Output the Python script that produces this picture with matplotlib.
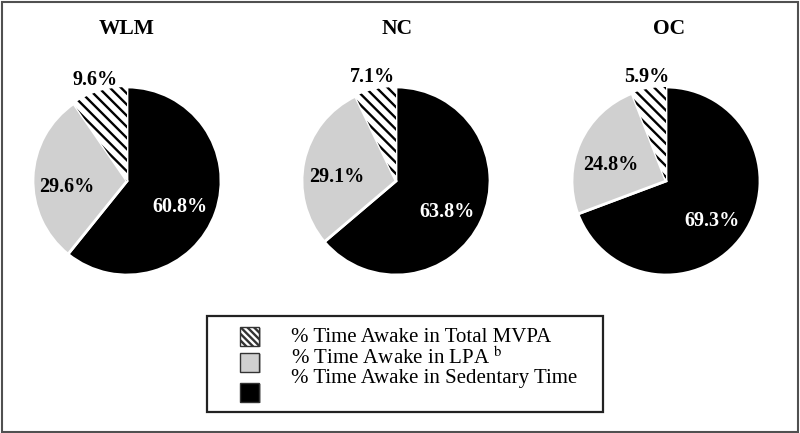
import matplotlib
matplotlib.use("Agg")
import matplotlib.pyplot as plt
from matplotlib.patches import Rectangle
import numpy as np

plt.rcParams['font.family'] = ['Liberation Serif', 'DejaVu Serif']
plt.rcParams['mathtext.fontset'] = 'stix'
plt.rcParams['hatch.linewidth'] = 1.7

groups = ["WLM", "NC", "OC"]
categories = ["% Time Awake in Sedentary Time", "% Time Awake in LPA $^{\\mathrm{b}}$",
              "% Time Awake in Total MVPA"]
sedentary = [60.8, 63.8, 69.3]
lpa = [29.6, 29.1, 24.8]
mvpa = [9.6, 7.1, 5.9]

colors = ["#000000", "#d0d0d0", "#ffffff"]
hatches = [None, None, "\\\\\\"]
label_colors = ["white", "black", "black"]
label_dist = [0.6, 0.64, 1.13]
label_dy = [-0.08, -0.09, 0.0]

W, H = 800, 433
fig = plt.figure(figsize=(W / 100, H / 100), dpi=100)
fig.patches.append(Rectangle((0.0025, 0.003), 0.995, 0.993, transform=fig.transFigure,
                             fill=False, edgecolor="#505050", linewidth=1.5))

centers = [(127, 181), (396, 181), (666, 181)]
title_x = [127, 397, 669]
radius = 94

for i, g in enumerate(groups):
    cx, cy = centers[i]
    ax = fig.add_axes([(cx - radius) / W, (H - cy - radius) / H, 2 * radius / W, 2 * radius / H])
    vals = [sedentary[i], lpa[i], mvpa[i]]
    wedges, _ = ax.pie(vals, colors=colors, startangle=90, counterclock=False,
                       radius=1.0, wedgeprops=dict(edgecolor="white", linewidth=2))
    for w, h in zip(wedges, hatches):
        if h:
            w.set_hatch(h)
            w.set_edgecolor("black")
            w.set_linewidth(0)
    for j, (w, v) in enumerate(zip(wedges, vals)):
        mid = np.deg2rad((w.theta1 + w.theta2) / 2)
        d = label_dist[j]
        ax.text(d * np.cos(mid), d * np.sin(mid) + label_dy[j], f"{v:.1f}%",
                ha="center", va="center", fontsize=14.5, fontweight="bold",
                color=label_colors[j])
    ax.set_xlim(-1, 1)
    ax.set_ylim(-1, 1)
    ax.set_aspect("equal")
    ax.axis("off")
    fig.text(title_x[i] / W, 1 - 29 / H, g, ha="center", va="center",
             fontsize=15.5, fontweight="bold")

# legend (drawn as a framed key)
def fx(px):
    return px / W

def fy(py):
    return 1 - py / H

fig.patches.append(Rectangle((fx(207), fy(412)), fx(603) - fx(207), fy(316) - fy(412),
                             transform=fig.transFigure, fill=False, edgecolor="#222222",
                             linewidth=1.6))
leg_labels = [categories[2], categories[1], categories[0]]
leg_face = ["white", colors[1], "black"]
leg_hatch = ["\\\\\\\\\\", None, None]
handle_y = [336, 362, 392]
text_y = [338, 358, 378]
hs = 19
for k in range(3):
    # soft shadow
    fig.patches.append(Rectangle((fx(240 + 1.5), fy(handle_y[k] + hs / 2 + 1.5)), hs / W, hs / H,
                                 transform=fig.transFigure, facecolor="#bbbbbb",
                                 edgecolor="none"))
    fig.patches.append(Rectangle((fx(240), fy(handle_y[k] + hs / 2)), hs / W, hs / H,
                                 transform=fig.transFigure, facecolor=leg_face[k],
                                 edgecolor="#333333", linewidth=1.0, hatch=leg_hatch[k]))
    fig.text(fx(291), fy(text_y[k]), leg_labels[k], ha="left", va="center", fontsize=15)

fig.savefig("out.png", dpi=100)
